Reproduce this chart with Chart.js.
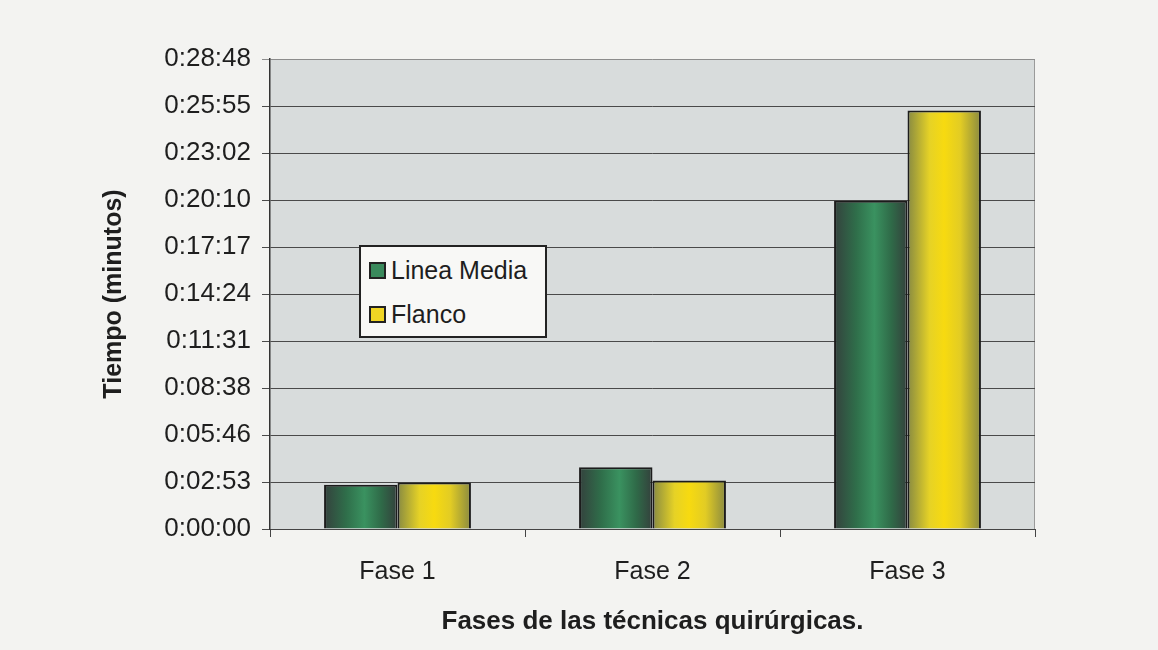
<!DOCTYPE html>
<html>
<head>
<meta charset="utf-8">
<script src="https://cdn.jsdelivr.net/npm/chart.js@4/dist/chart.umd.min.js"></script>
<style>
  html, body { margin: 0; padding: 0; background: #f3f3f1; }
  #wrap { position: relative; width: 1158px; height: 650px; }
  #legend {
    position: absolute; left: 359px; top: 245px; width: 184px; height: 89px;
    background: #f8f8f6; border: 2px solid #222;
    font-family: "Liberation Sans", Arial, sans-serif; font-size: 25px; color: #1e1e1e;
  }
  .item { position: absolute; left: 8px; height: 28px; line-height: 28px; white-space: nowrap; }
  .sw { display: inline-block; width: 13px; height: 13px; border: 2px solid #222; vertical-align: middle; margin-right: 5px; position: relative; top: -2px; }
</style>
</head>
<body>
<div id="wrap">
  <canvas id="c" width="1158" height="650"></canvas>
  <div id="legend"></div>
</div>
<script>
// ---- data (seconds) ----
const categories = ['Fase 1', 'Fase 2', 'Fase 3'];
const seriesNames = ['Linea Media', 'Flanco'];
const lineaMedia = [163, 227, 1207];
const flanco = [171, 178, 1539];
const yTickLabels = ['0:00:00', '0:02:53', '0:05:46', '0:08:38', '0:11:31', '0:14:24',
                     '0:17:17', '0:20:10', '0:23:02', '0:25:55', '0:28:48'];
const yMax = 1728;
const yStep = 172.8;

const swatchColors = ['#3a8a5c', '#f0d524'];
const gradStops = [
  [[0, '#34413d'], [0.3, '#2f6e4a'], [0.55, '#3a9260'], [0.78, '#2f6a48'], [1, '#34403c']],
  [[0, '#878a42'], [0.3, '#e6d226'], [0.5, '#f7da10'], [0.72, '#e2cc24'], [1, '#8a8a40']]
];

const bgPlugin = {
  id: 'bg',
  beforeDraw(chart) {
    const {ctx, chartArea: a} = chart;
    ctx.save();
    ctx.fillStyle = '#d8dcdc';
    ctx.fillRect(a.left, a.top, a.right - a.left, a.bottom - a.top);
    ctx.strokeStyle = '#9a9a9a';
    ctx.lineWidth = 1;
    ctx.beginPath();
    ctx.moveTo(a.right - 0.5, a.top);
    ctx.lineTo(a.right - 0.5, a.bottom);
    ctx.stroke();
    ctx.restore();
  },
  beforeDatasetsDraw(chart) {
    const ctx = chart.ctx;
    chart.data.datasets.forEach((ds, i) => {
      const meta = chart.getDatasetMeta(i);
      meta.data.forEach(el => {
        const {x, width} = el.getProps(['x', 'width'], true);
        const g = ctx.createLinearGradient(x - width / 2, 0, x + width / 2, 0);
        gradStops[i].forEach(s => g.addColorStop(s[0], s[1]));
        el.options = Object.assign({}, el.options, {backgroundColor: g});
      });
    });
  }
};

const font = {family: '"Liberation Sans", Arial, sans-serif', size: 25};
const textColor = '#1e1e1e';

new Chart(document.getElementById('c'), {
  type: 'bar',
  data: {
    labels: categories,
    datasets: [
      {label: seriesNames[0], data: lineaMedia, backgroundColor: c => swatchColors[c.datasetIndex]},
      {label: seriesNames[1], data: flanco, backgroundColor: c => swatchColors[c.datasetIndex]}
    ]
  },
  options: {
    responsive: false,
    animation: false,
    layout: {padding: {left: 0, top: 59, right: 123, bottom: 0}},
    datasets: {
      bar: {categoryPercentage: 0.576, barPercentage: 1, borderColor: '#1c1c1c', borderWidth: 2}
    },
    plugins: {legend: {display: false}, tooltip: {enabled: false}},
    scales: {
      x: {
        grid: {drawOnChartArea: false, drawTicks: true, tickLength: 8, color: '#444', offset: true},
        border: {display: true, color: '#444', width: 1},
        ticks: {font: font, color: textColor, padding: 20},
        title: {display: true, text: 'Fases de las técnicas quirúrgicas.', color: textColor,
                font: {family: font.family, size: 26, weight: 'bold'}, padding: {top: 0, bottom: 13}},
        afterFit(scale) { scale.height = 121; }
      },
      y: {
        min: 0, max: yMax,
        grid: {color: ctx => (ctx.tick && ctx.tick.value >= yMax - 1 ? '#8c8c8c' : '#4a4a4a'),
               lineWidth: 1, tickLength: 8, drawTicks: true},
        border: {display: true, color: '#333', width: 1.5},
        ticks: {stepSize: yStep, font: {family: font.family, size: 26}, color: textColor, padding: 11,
                callback: (v, i) => yTickLabels[i]},
        title: {display: true, text: 'Tiempo (minutos)', color: textColor,
                font: {family: font.family, size: 25, weight: 'bold'}, padding: {top: 99, bottom: 0}},
        afterFit(scale) { scale.width = 270; }
      }
    }
  },
  plugins: [bgPlugin]
});

// HTML legend built from the series
const leg = document.getElementById('legend');
seriesNames.forEach((name, i) => {
  const d = document.createElement('div');
  d.className = 'item';
  d.style.top = (9 + i * 44) + 'px';
  d.innerHTML = '<span class="sw" style="background:' + swatchColors[i] + '"></span>' + name;
  leg.appendChild(d);
});
</script>
</body>
</html>
